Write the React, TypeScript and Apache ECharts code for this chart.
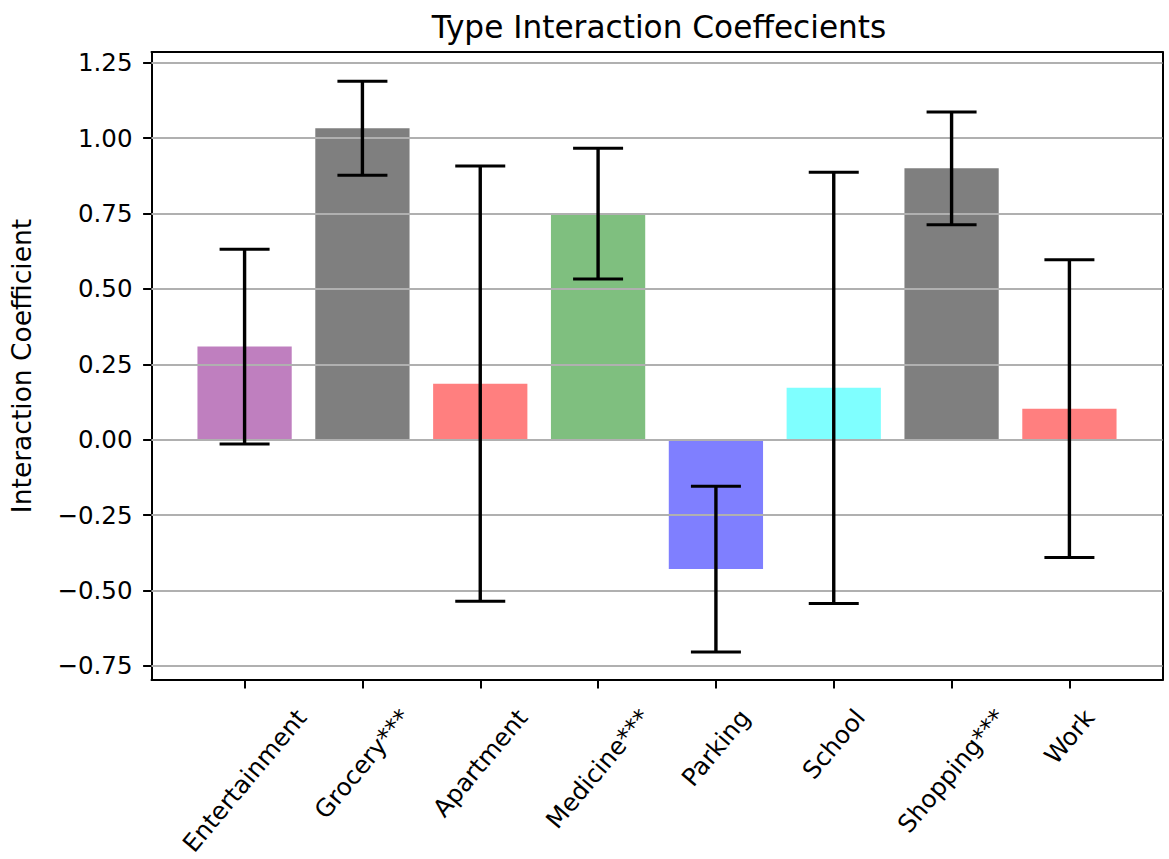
import React, { useEffect, useRef } from 'react';
import * as echarts from 'echarts';

const categories = ['Entertainment', 'Grocery***', 'Apartment', 'Medicine***', 'Parking', 'School', 'Shopping***', 'Work'];
const coefficients = [0.309, 1.033, 0.186, 0.75, -0.429, 0.172, 0.9, 0.103];
const errors = [0.323, 0.156, 0.722, 0.217, 0.275, 0.715, 0.187, 0.494];
const barColors = [
  'rgba(128,0,128,0.5)',
  'rgba(0,0,0,0.5)',
  'rgba(255,0,0,0.5)',
  'rgba(0,128,0,0.5)',
  'rgba(0,0,255,0.5)',
  'rgba(0,255,255,0.5)',
  'rgba(0,0,0,0.5)',
  'rgba(255,0,0,0.5)',
];
const yTicks = [-0.75, -0.5, -0.25, 0, 0.25, 0.5, 0.75, 1.0, 1.25];

const FONT = '"DejaVu Sans", sans-serif';
const TICK_FS = 24.5;
const ROT = 50;

function measure(text: string, fs: number): number {
  const c = document.createElement('canvas');
  const ctx = c.getContext('2d');
  if (!ctx) return text.length * fs * 0.6;
  ctx.font = `${fs}px "DejaVu Sans"`;
  return ctx.measureText(text).width;
}

export default function App() {
  const ref = useRef<HTMLDivElement>(null);
  useEffect(() => {
    if (!ref.current) return;
    const chart = echarts.init(ref.current, null, { renderer: 'svg' });
    const sin = Math.sin((ROT * Math.PI) / 180);
    const cos = Math.cos((ROT * Math.PI) / 180);
    const rich: Record<string, any> = {};
    categories.forEach((c, i) => {
      const L = measure(c, TICK_FS);
      const D = 25 + (L * sin + TICK_FS * cos) / 2;
      rich['c' + i] = {
        fontSize: TICK_FS,
        fontFamily: FONT,
        color: '#000',
        lineHeight: TICK_FS,
        padding: [2 * D * cos, 2 * D * sin, 0, 0],
      };
    });
    // outer plot frame, in px
    const G_LEFT = 151.5, G_RIGHT = 1162.5, G_TOP = 52, G_BOTTOM = 680;
    const xMin = -0.79, xMax = 7.79, yMin = -0.797, yMax = 1.286;
    const pxPerUnit = (G_RIGHT - G_LEFT) / (xMax - xMin);
    // inner grid holding the category axis: bands of width 1 around each category index
    const innerLeft = G_LEFT + (-0.5 - xMin) * pxPerUnit;
    const innerRight = G_LEFT + (categories.length - 0.5 - xMin) * pxPerUnit;
    const axisLine = { show: true, onZero: false, lineStyle: { color: '#000', width: 2 } };
    const option: any = {
      animation: false,
      title: {
        text: 'Type Interaction Coeffecients',
        left: 654,
        top: 6,
        textAlign: 'center',
        textStyle: { fontSize: 31.2, fontWeight: 'normal', fontFamily: FONT, color: '#000' },
      },
      grid: [
        { left: G_LEFT, right: 1169 - G_RIGHT, top: G_TOP, bottom: 859 - G_BOTTOM, outerBoundsMode: 'none', containLabel: false },
        { left: innerLeft, right: 1169 - innerRight, top: G_TOP, bottom: 859 - G_BOTTOM, outerBoundsMode: 'none', containLabel: false },
      ],
      xAxis: [
        {
          type: 'value',
          gridIndex: 0,
          min: xMin,
          max: xMax,
          position: 'bottom',
          axisLine,
          axisTick: { show: false },
          axisLabel: { show: false },
          splitLine: { show: false },
        },
        {
          type: 'value',
          gridIndex: 0,
          min: xMin,
          max: xMax,
          position: 'top',
          axisLine,
          axisTick: { show: false },
          axisLabel: { show: false },
          splitLine: { show: false },
        },
        {
          type: 'category',
          gridIndex: 1,
          data: categories,
          position: 'bottom',
          boundaryGap: true,
          axisLine: { show: false, onZero: false },
          axisTick: { show: true, alignWithLabel: true, interval: 0, length: 8.4, lineStyle: { color: '#000', width: 2 } },
          axisLabel: {
            show: true,
            interval: 0,
            rotate: ROT,
            align: 'center',
            verticalAlign: 'middle',
            margin: 0,
            fontSize: TICK_FS,
            fontFamily: FONT,
            color: '#000',
            formatter: (v: string, i: number) => `{c${i}|${v}}`,
            rich,
          },
          splitLine: { show: false },
        },
      ],
      yAxis: [
        {
          type: 'value',
          gridIndex: 0,
          min: yMin,
          max: yMax,
          position: 'left',
          axisLine,
          axisTick: { show: true, customValues: yTicks, length: 8.4, lineStyle: { color: '#000', width: 2 } },
          axisLabel: {
            show: true,
            customValues: yTicks,
            showMinLabel: true,
            showMaxLabel: true,
            margin: 19,
            fontSize: TICK_FS,
            fontFamily: FONT,
            color: '#000',
            formatter: (v: number) => (v < 0 ? '\u2212' : '') + Math.abs(v).toFixed(2),
          },
          splitLine: { show: false },
          name: 'Interaction Coefficient',
          nameLocation: 'middle',
          nameGap: 117,
          nameTextStyle: { fontSize: 26.5, fontFamily: FONT, color: '#000' },
        },
        {
          type: 'value',
          gridIndex: 0,
          min: yMin,
          max: yMax,
          position: 'right',
          axisLine,
          axisTick: { show: false },
          axisLabel: { show: false },
          splitLine: { show: false },
        },
        {
          type: 'value',
          gridIndex: 1,
          min: yMin,
          max: yMax,
          show: false,
        },
      ],
      series: [
        {
          type: 'custom',
          coordinateSystem: 'cartesian2d',
          xAxisIndex: 0,
          yAxisIndex: 0,
          z: 2,
          data: coefficients.map((v, i) => [i, v]),
          encode: { x: 0, y: 1 },
          renderItem: (params: any, api: any) => {
            const i = api.value(0);
            const v = api.value(1);
            const p1 = api.coord([i - 0.4, v]);
            const p2 = api.coord([i + 0.4, 0]);
            return {
              type: 'rect',
              shape: {
                x: p1[0],
                y: Math.min(p1[1], p2[1]),
                width: p2[0] - p1[0],
                height: Math.abs(p2[1] - p1[1]),
              },
              style: { fill: barColors[params.dataIndex] },
            };
          },
          markLine: {
            silent: true,
            symbol: ['none', 'none'],
            label: { show: false },
            lineStyle: { color: '#b0b0b0', width: 1.9, type: 'solid' },
            emphasis: { disabled: true },
            data: yTicks.map((v) => ({ yAxis: v })),
          },
        },
        {
          type: 'custom',
          coordinateSystem: 'cartesian2d',
          xAxisIndex: 0,
          yAxisIndex: 0,
          z: 10,
          data: coefficients.map((v, i) => [i, v - errors[i], v + errors[i]]),
          encode: { x: 0, y: [1, 2] },
          renderItem: (params: any, api: any) => {
            const i = api.value(0);
            const lo = api.coord([i, api.value(1)]);
            const hi = api.coord([i, api.value(2)]);
            const cap = 25;
            const st = { stroke: '#000', lineWidth: 3.4 };
            const cst = { stroke: '#000', lineWidth: 3 };
            return {
              type: 'group',
              children: [
                { type: 'line', shape: { x1: lo[0], y1: lo[1], x2: hi[0], y2: hi[1] }, style: st },
                { type: 'line', shape: { x1: lo[0] - cap, y1: lo[1], x2: lo[0] + cap, y2: lo[1] }, style: cst },
                { type: 'line', shape: { x1: hi[0] - cap, y1: hi[1], x2: hi[0] + cap, y2: hi[1] }, style: cst },
              ],
            };
          },
        },
      ],
    };
    chart.setOption(option);
    return () => chart.dispose();
  }, []);
  return <div ref={ref} style={{ position: 'absolute', left: 0, top: 0, width: 1169, height: 859, background: '#fff' }} />;
}
